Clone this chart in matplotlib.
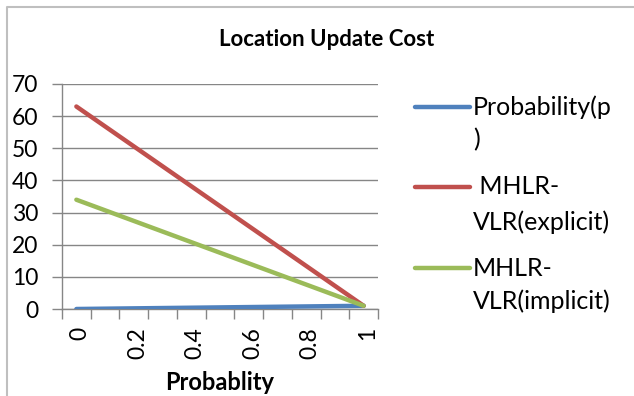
import matplotlib.pyplot as plt
from matplotlib.lines import Line2D
from matplotlib.transforms import ScaledTranslation

# Location update cost vs. probability p
categories = ["0", "0.1", "0.2", "0.3", "0.4", "0.5", "0.6", "0.7", "0.8", "0.9", "1"]
probability = [0, 0.1, 0.2, 0.3, 0.4, 0.5, 0.6, 0.7, 0.8, 0.9, 1]
mhlr_explicit = [63, 56.8, 50.6, 44.4, 38.2, 32, 25.8, 19.6, 13.4, 7.2, 1]
mhlr_implicit = [34, 30.7, 27.4, 24.1, 20.8, 17.5, 14.2, 10.9, 7.6, 4.3, 1]

series_labels = [["Probability(p", ")"], [" MHLR-", "VLR(explicit)"], ["MHLR-", "VLR(implicit)"]]
colors = ["#4F81BD", "#C0504D", "#9BBB59"]
grid_color = "#868686"

plt.rcParams["font.family"] = ["Lato", "DejaVu Sans"]

W, H = 634, 396
fig = plt.figure(figsize=(W / 100, H / 100), dpi=100)
ax = fig.add_axes([62 / W, 1 - 309 / H, (378 - 62) / W, (309 - 84) / H])

x = range(len(categories))
for ys, c in zip([probability, mhlr_explicit, mhlr_implicit], colors):
    ax.plot(x, ys, color=c, lw=3.2, solid_capstyle="round", zorder=3)

ax.set_xlim(-0.5, len(categories) - 0.5)
ax.set_ylim(0, 70)
ax.set_yticks(range(0, 71, 10))
ax.yaxis.grid(True, color=grid_color, lw=1)
ax.set_axisbelow(True)

ax.set_xticks([i - 0.5 for i in range(len(categories) + 1)], minor=True)
ax.set_xticks(list(x)[::2])
ax.set_xticklabels(categories[::2], rotation=90, fontsize=16.5, va="top", ha="center")
ax.tick_params(axis="x", which="major", length=0, pad=13)
ax.tick_params(axis="x", which="minor", length=7, color=grid_color, width=1)
ax.tick_params(axis="y", length=7, color=grid_color, width=1, labelsize=16.5, pad=10)
nudge = ScaledTranslation(4 / 100, 0, fig.dpi_scale_trans)
for lbl in ax.get_xticklabels():
    lbl.set_transform(lbl.get_transform() + nudge)

for s in ["top", "right"]:
    ax.spines[s].set_visible(False)
for s in ["left", "bottom"]:
    ax.spines[s].set_color(grid_color)
    ax.spines[s].set_linewidth(1)

fig.text(220 / W, 1 - 382 / H, "Probablity", fontsize=17, fontweight="bold",
         ha="center", va="center")
fig.text(327 / W, 1 - 40 / H, "Location Update Cost", fontsize=16,
         fontweight="bold", ha="center", va="center")

# legend drawn by hand so each sample sits on the first line of its label
legend_rows = [(107, 140), (187, 222), (268, 301)]
for (y1, y2), lines, c in zip(legend_rows, series_labels, colors):
    fig.add_artist(Line2D([415 / W, 470 / W], [1 - y1 / H, 1 - y1 / H],
                          color=c, lw=3.2, solid_capstyle="round"))
    for y, t in zip((y1, y2), lines):
        fig.text(473 / W, 1 - y / H, t, fontsize=18, ha="left", va="center")

# chart frame
fig.add_artist(Line2D([7 / W, 7 / W, 1], [0, 1 - 7 / H, 1 - 7 / H],
                      color="#BFBFBF", lw=1.5))

fig.savefig("out.png", dpi=100)
